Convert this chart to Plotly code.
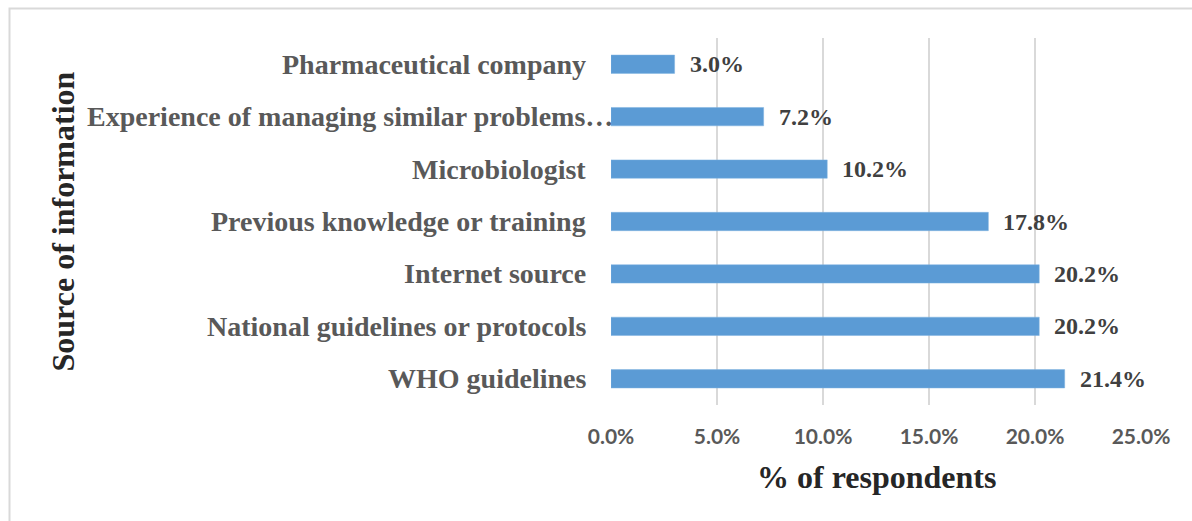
import plotly.graph_objects as go

# Survey data: share of respondents citing each source (bottom to top)
categories = [
    "WHO guidelines",
    "National guidelines or protocols",
    "Internet source",
    "Previous knowledge or training",
    "Microbiologist",
    "Experience of managing similar problems…",
    "Pharmaceutical company",
]
percent = [21.4, 20.2, 20.2, 17.8, 10.2, 7.2, 3.0]
tick_values = [0, 5, 10, 15, 20, 25]
tick_labels = ["0.0%", "5.0%", "10.0%", "15.0%", "20.0%", "25.0%"]

BAR_COLOR = "#5B9BD5"
GRID_COLOR = "#D9D9D9"
SERIF = "Liberation Serif, Times New Roman, serif"
SANS = "Lato, Open Sans, sans-serif"

fig = go.Figure(
    go.Bar(
        x=percent,
        y=categories,
        orientation="h",
        width=0.35,
        marker=dict(color=BAR_COLOR, line=dict(color="#7FB2E0", width=0.5)),
        hoverinfo="skip",
    )
)

annotations = []
# Category labels placed to the left of the value axis origin
for cat in categories:
    long_label = cat.endswith("…")
    annotations.append(dict(
        x=0, y=cat, xref="x", yref="y",
        text=f"<b>{cat}</b>",
        showarrow=False,
        xanchor="right", yanchor="middle",
        xshift=4 if long_label else -23,
        font=dict(family=SERIF, size=28, color="#595959"),
    ))
# Value labels at the end of each bar
for cat, val in zip(categories, percent):
    annotations.append(dict(
        x=val, y=cat, xref="x", yref="y",
        text=f"<b>{val:.1f}%</b>",
        showarrow=False,
        xanchor="left", yanchor="middle",
        xshift=13,
        font=dict(family=SERIF, size=24, color="#404040"),
    ))
# Axis titles
annotations.append(dict(
    x=0.5, y=-0.196, xref="paper", yref="paper",
    text="<b>% of respondents</b>", showarrow=False,
    xanchor="center", yanchor="middle",
    font=dict(family=SERIF, size=32, color="#262626"),
))
annotations.append(dict(
    x=-1.034, y=0.5, xref="paper", yref="paper",
    text="<b>Source of information</b>", showarrow=False,
    textangle=-90, xanchor="center", yanchor="middle",
    font=dict(family=SERIF, size=32, color="#262626"),
))

fig.update_layout(
    width=1192,
    height=521,
    margin=dict(l=611, r=51, t=38, b=116),
    paper_bgcolor="white",
    plot_bgcolor="white",
    showlegend=False,
    bargap=0.65,
    annotations=annotations,
    shapes=[dict(
        type="rect", xref="paper", yref="paper",
        x0=-1.1349, x1=1.2, y0=-0.4, y1=1.0804,
        line=dict(color=GRID_COLOR, width=2),
        fillcolor="rgba(0,0,0,0)", layer="below",
    )],
)

fig.update_xaxes(
    range=[0, 25],
    tickvals=tick_values,
    ticktext=tick_labels,
    showgrid=True,
    gridcolor=GRID_COLOR,
    gridwidth=1.5,
    zeroline=False,
    showline=False,
    ticks="",
    ticklabelstandoff=17,
    tickfont=dict(family=SANS, size=21, color="#595959", weight="bold"),
)
fig.update_yaxes(
    categoryorder="array",
    categoryarray=categories,
    range=[-0.5, len(categories) - 0.5],
    showticklabels=False,
    showgrid=False,
    zeroline=False,
    showline=False,
    ticks="",
)

fig.write_html("out.html")
